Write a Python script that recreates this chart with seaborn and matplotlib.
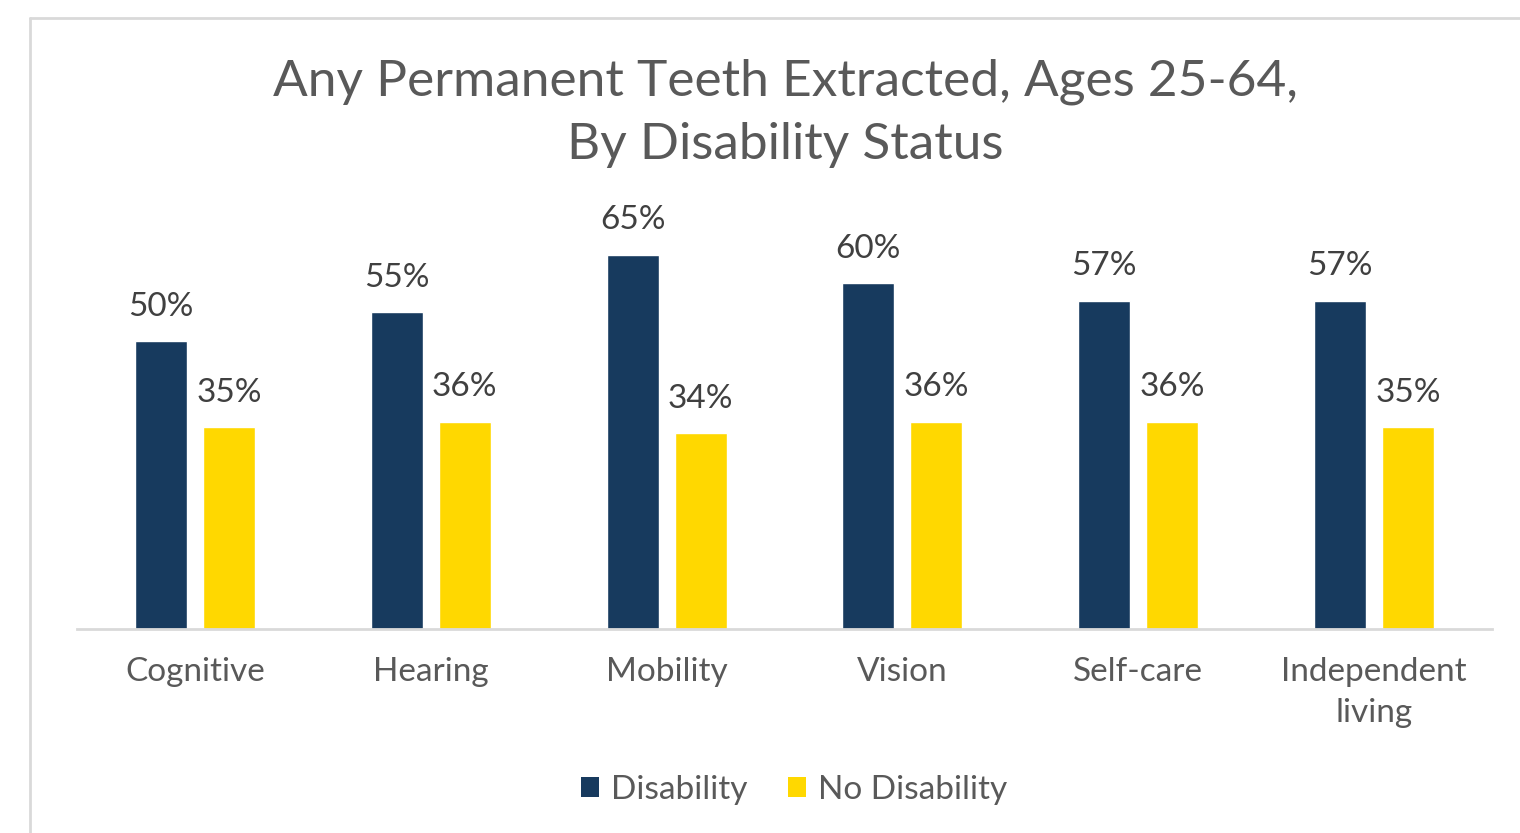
import matplotlib
matplotlib.use("Agg")
import matplotlib.pyplot as plt
from matplotlib.lines import Line2D
from matplotlib.patches import Patch
import seaborn as sns
import pandas as pd

categories = ["Cognitive", "Hearing", "Mobility", "Vision", "Self-care", "Independent\nliving"]
disability = [50, 55, 65, 60, 57, 57]
no_disability = [35, 36, 34, 36, 36, 35]
series_names = ["Disability", "No Disability"]
colors = ["#173a5e", "#ffd800"]

df = pd.DataFrame({
    "category": categories * 2,
    "value": disability + no_disability,
    "group": [series_names[0]] * len(categories) + [series_names[1]] * len(categories),
})

sns.set_theme(style="white")
plt.rcParams["font.family"] = ["Lato", "DejaVu Sans"]

fig = plt.figure(figsize=(15.2, 8.33), dpi=100)
ax = fig.add_axes([77 / 1520, 1 - 629 / 833, (1492 - 77) / 1520, 432 / 833])

sns.barplot(data=df, x="category", y="value", hue="group", order=categories,
            hue_order=series_names, palette=colors, width=0.577, gap=0.235,
            saturation=1, legend=False, ax=ax)

for container in ax.containers:
    ax.bar_label(container, labels=[f"{v:.0f}%" for v in container.datavalues],
                 padding=14, fontsize=24, color="#404040")

ax.set_ylim(0, 75)
ax.set_xlim(-0.5, len(categories) - 0.5)
ax.set_xlabel("")
ax.set_ylabel("")
ax.set_yticks([])
for side in ["top", "right", "left"]:
    ax.spines[side].set_visible(False)
ax.spines["bottom"].set_color("#d9d9d9")
ax.spines["bottom"].set_linewidth(2)
ax.tick_params(axis="x", length=0, pad=20, labelsize=24, labelcolor="#595959")
for lbl in ax.get_xticklabels():
    lbl.set_linespacing(1.45)

fig.text(0.5165, 1 - 113 / 833, "Any Permanent Teeth Extracted, Ages 25-64,\nBy Disability Status",
         ha="center", va="center", fontsize=37, color="#595959", linespacing=1.47)

handles = [Patch(facecolor=c, edgecolor="none") for c in colors]
fig.legend(handles, series_names, loc="center", bbox_to_anchor=(794 / 1520, 1 - 790 / 833),
           ncol=2, frameon=False, fontsize=24, handlelength=0.55, handleheight=0.55,
           handletextpad=0.35, columnspacing=1.2, labelcolor="#595959")

# light chart-area frame along the left and top edges
fig.add_artist(Line2D([30 / 1520, 30 / 1520], [0, 1 - 18 / 833], color="#d9d9d9", lw=2,
                      transform=fig.transFigure))
fig.add_artist(Line2D([30 / 1520, 1], [1 - 18 / 833, 1 - 18 / 833], color="#d9d9d9", lw=2,
                      transform=fig.transFigure))

fig.savefig("out.png", dpi=100, facecolor="white")
